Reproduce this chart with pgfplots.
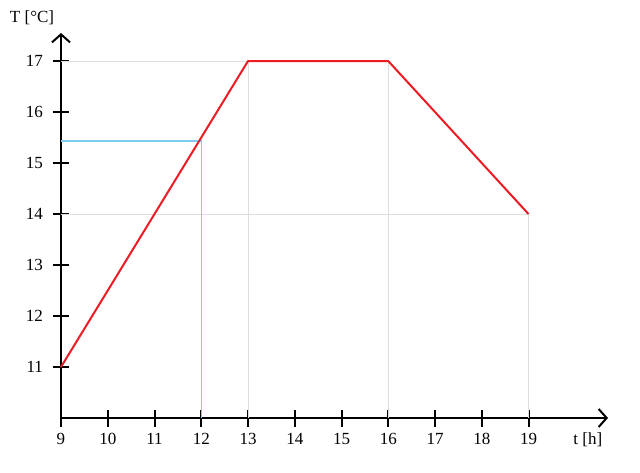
\documentclass[border=0pt]{standalone}
\usepackage{fontspec}
\setmainfont{Liberation Serif}
\usepackage{pgfplots}
\pgfplotsset{compat=1.18}
\usetikzlibrary{arrows.meta}
\definecolor{linered}{RGB}{237,28,36}
\definecolor{guidegray}{RGB}{222,222,222}
\definecolor{guidecyan}{RGB}{125,205,238}
\begin{document}
\begin{tikzpicture}
\useasboundingbox (-61pt,-54pt) rectangle (579pt,418pt);
\begin{axis}[
  at={(0,0)}, anchor=south west,
  scale only axis, width=547pt, height=385pt,
  xmin=9, xmax=20.7, ymin=10, ymax=17.55,
  axis lines=left,
  axis line style={line width=2pt, -{Straight Barb[length=8pt,width=18pt,line width=2pt]}},
  xtick={9,...,19}, ytick={11,...,17},
  tick align=center, major tick length=17pt,
  every tick/.style={line width=2pt, black},
  /pgf/number format/assume math mode=true,
  tick label style={font=\fontsize{17}{20}\selectfont},
  xticklabel style={yshift=-3pt},
  yticklabel style={xshift=-6pt},
  every axis x label/.style={at={(axis description cs:0.963,-0.057)}, anchor=center, font=\fontsize{17}{20}\selectfont},
  every axis y label/.style={at={(axis description cs:-0.053,1.039)}, anchor=center, font=\fontsize{17}{20}\selectfont},
  xlabel={t [h]}, ylabel={T [°C]},
  clip=false,
]
% guide lines
\addplot[color=guidegray, line width=1pt, forget plot] coordinates {(9,17) (16,17)};
\addplot[color=guidegray, line width=1pt, forget plot] coordinates {(9,14) (19,14)};
\addplot[color=guidegray, line width=1pt, forget plot] coordinates {(13,10) (13,17)};
\addplot[color=guidegray, line width=1pt, forget plot] coordinates {(16,10) (16,17)};
\addplot[color=guidegray, line width=1pt, forget plot] coordinates {(19,10) (19,14)};
\addplot[color=guidecyan, line width=1.3pt, forget plot] coordinates {(9,15.43) (12,15.43) (12,10)};
% temperature
\addplot[color=linered, line width=2pt, line join=round] coordinates {
  (9,11) (13,17) (16,17) (19,14)
};
\end{axis}
\end{tikzpicture}
\end{document}
